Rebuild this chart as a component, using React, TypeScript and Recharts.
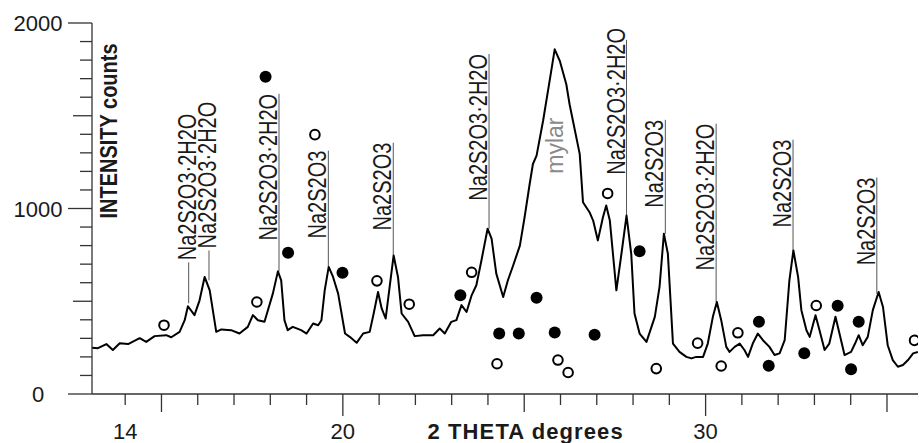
import React from "react";
import { ComposedChart, Line, Scatter, XAxis, YAxis, ReferenceLine, ReferenceDot } from "recharts";

// diffraction trace
const thetaPts = [
  13.08, 13.25, 13.48, 13.66, 13.85, 14.08, 14.4, 14.58, 14.81, 15.13, 15.27, 15.5, 15.64, 15.73, 15.91,
  16.05, 16.19, 16.33, 16.51, 16.65, 16.92, 17.15, 17.38, 17.52, 17.66, 17.84, 18.07, 18.21, 18.3, 18.39,
  18.48, 18.62, 18.85, 19.0, 19.18, 19.32, 19.41, 19.5, 19.61, 19.73, 19.87, 20.06, 20.19, 20.38, 20.56,
  20.74, 20.85, 20.97, 21.07, 21.18, 21.29, 21.4, 21.52, 21.62, 21.8, 21.98, 22.21, 22.49, 22.67, 22.81,
  22.99, 23.13, 23.27, 23.41, 23.55, 23.68, 23.82, 23.99, 24.1, 24.23, 24.42, 24.55, 24.69, 24.88, 25.01,
  25.15, 25.24, 25.34, 25.52, 25.7, 25.84, 25.98, 26.16, 26.25, 26.53, 26.62, 26.8, 26.9, 27.03, 27.17,
  27.26, 27.36, 27.54, 27.68, 27.82, 27.95, 28.04, 28.18, 28.37, 28.6, 28.73, 28.85, 28.96, 29.1, 29.28,
  29.47, 29.61, 29.74, 29.93, 30.06, 30.2, 30.31, 30.43, 30.57, 30.66, 30.8, 30.94, 31.07, 31.17, 31.3,
  31.44, 31.58, 31.76, 31.9, 32.04, 32.18, 32.31, 32.42, 32.55, 32.64, 32.78, 32.87, 33.03, 33.14, 33.28,
  33.41, 33.58, 33.69, 33.83, 34.01, 34.12, 34.22, 34.33, 34.47, 34.61, 34.77, 34.89, 35.02, 35.16, 35.3,
  35.44, 35.58, 35.72, 35.85,
];
const countPts = [
  250, 247, 269, 237, 274, 269, 301, 281, 312, 317, 306, 335, 398, 473, 425,
  505, 631, 559, 335, 348, 344, 326, 362, 425, 398, 389, 541, 661, 613, 398,
  344, 362, 344, 326, 380, 371, 398, 559, 685, 631, 541, 326, 308, 276, 326,
  335, 434, 550, 461, 407, 577, 747, 631, 434, 389, 312, 317, 317, 353, 326,
  389, 398, 479, 442, 532, 586, 720, 891, 837, 649, 523, 613, 690, 800, 953,
  1132, 1240, 1285, 1473, 1688, 1858, 1796, 1670, 1562, 1293, 1034, 980, 935, 828, 953,
  1016, 935, 559, 756, 962, 756, 434, 326, 281, 416, 577, 864, 756, 272, 227,
  200, 192, 200, 200, 272, 416, 496, 398, 254, 227, 254, 272, 237, 200, 272,
  326, 290, 254, 210, 219, 290, 613, 774, 631, 452, 344, 308, 425, 344, 237,
  272, 416, 326, 210, 227, 272, 317, 263, 308, 452, 550, 469, 263, 183, 147,
  156, 183, 219, 227,
];

// open circle markers
const openTheta = [15.07, 17.63, 19.23, 20.94, 21.83, 23.55, 24.25, 25.93, 26.21, 27.3, 28.64, 29.78, 30.43, 30.89, 33.05, 35.76];
const openCount = [371, 496, 1398, 610, 484, 656, 163, 183, 116, 1081, 137, 274, 151, 330, 477, 289];

// filled circle markers
const filledTheta = [17.87, 18.49, 19.99, 23.24, 24.31, 24.85, 25.34, 25.84, 26.94, 28.18, 31.47, 31.74, 32.72, 33.64, 34.22, 34.01];
const filledCount = [1710, 762, 654, 532, 326, 326, 519, 331, 320, 769, 389, 152, 220, 476, 389, 133];

// phase labels: line from peak (base) up to top, text beside it
const peakTheta = [15.75, 16.31, 18.24, 19.6, 21.39, 24.03, 27.82, 28.89, 30.29, 32.41, 34.72];
const peakBase = [489, 613, 661, 685, 747, 891, 962, 864, 496, 774, 540];
const peakTop = [710, 774, 1618, 1312, 1355, 1833, 1909, 1478, 1457, 1371, 1167];
const peakTextTop = [710, 774, 1618, 1312, 1355, 1833, 1973, 1478, 1457, 1371, 1167];
const peakName = [
  "Na2S2O3·2H2O", "Na2S2O3·2H2O", "Na2S2O3·2H2O", "Na2S2O3", "Na2S2O3", "Na2S2O3·2H2O",
  "Na2S2O3·2H2O", "Na2S2O3", "Na2S2O3·2H2O", "Na2S2O3", "Na2S2O3",
];
const mylarTheta = 25.92;
const mylarCount = 1339;

const xTicks = [14, 15, 16, 17, 18, 19, 20, 21, 22, 23, 24, 25, 26, 27, 28, 29, 30, 31, 32, 33, 34, 35];
const xLabels = [14, 20, 30];
const yTicks = [0, 100, 200, 300, 400, 500, 600, 700, 800, 900, 1000, 1100, 1200, 1300, 1400, 1500, 1600, 1700, 1800, 1900, 2000];
const yLabels = [0, 1000, 2000];

const curve = thetaPts.map((x, i) => ({ x, y: countPts[i] }));
const openPts = openTheta.map((x, i) => ({ x, y: openCount[i] }));
const filledPts = filledTheta.map((x, i) => ({ x, y: filledCount[i] }));
// the first two labels sit on top of their lines instead of beside them
const TEXT_ABOVE = [true, true, false, false, false, false, false, false, false, false, false];

const FONT = "'Liberation Sans', Arial, Helvetica, sans-serif";
const INK = "#1a1a1a";

// vertical text, widened a bit across its height like the scanned figure
function VText({ x, y, anchor, size, scale, children, ...rest }: any) {
  return (
    <text
      transform={`translate(${x} ${y}) scale(${scale} 1) rotate(-90)`}
      textAnchor={anchor}
      fontSize={size}
      fontFamily={FONT}
      {...rest}
    >
      {children}
    </text>
  );
}

function XTick(props: any) {
  const { x, y, payload } = props;
  const v = payload.value;
  const len = v === 20 || v === 30 ? 22 : v % 5 === 0 ? 18 : 11;
  return (
    <g>
      <line x1={x} x2={x} y1={y} y2={y + len} stroke="#333" strokeWidth={1.3} />
      {xLabels.includes(v) && (
        <text x={x} y={y + 45} textAnchor="middle" fontSize={22} fontFamily={FONT} fill={INK}>
          {v}
        </text>
      )}
    </g>
  );
}

function YTick(props: any) {
  const { x, y, payload } = props;
  const v = payload.value;
  const len = v % 1000 === 0 ? 24 : v % 500 === 0 ? 19 : 12;
  return (
    <g>
      <line x1={x - len} x2={x} y1={y} y2={y} stroke="#333" strokeWidth={1.3} />
      {yLabels.includes(v) && (
        <text x={x - 54} y={y + 8} textAnchor="middle" fontSize={22} fontFamily={FONT} fill={INK}>
          {v}
        </text>
      )}
    </g>
  );
}

function PeakText({ cx, cy, text, above }: { cx: number; cy: number; text: string; above: boolean }) {
  return (
    <VText
      x={above ? cx + 7 : cx - 2}
      y={above ? cy - 2 : cy}
      anchor={above ? "start" : "end"}
      size={20}
      scale={1.3}
      fill={INK}
    >
      {text}
    </VText>
  );
}

export default function App() {
  return (
    <div style={{ position: "absolute", left: 0, top: 0, width: 919, height: 443, background: "#fff" }}>
      <ComposedChart width={919} height={443} margin={{ top: 23, right: 1, left: 32, bottom: 19 }}>
        <XAxis
          type="number"
          dataKey="x"
          domain={[13.085, 35.855]}
          ticks={xTicks}
          interval={0}
          tickSize={0}
          tickMargin={0}
          tick={(p: any) => <XTick {...p} />}
          height={30}
          stroke="#333"
          strokeWidth={1.3}
          allowDataOverflow
          label={(p: any) => {
            const vb = p.viewBox;
            return (
              <text
                x={vb.x + vb.width * 0.525}
                y={439}
                textAnchor="middle"
                fontSize={22}
                fontWeight="bold"
                letterSpacing={1.1}
                fontFamily={FONT}
                fill={INK}
              >
                2 THETA degrees
              </text>
            );
          }}
        />
        <YAxis
          type="number"
          dataKey="y"
          domain={[0, 2000]}
          ticks={yTicks}
          interval={0}
          tickSize={0}
          tickMargin={0}
          tick={(p: any) => <YTick {...p} />}
          width={60}
          stroke="#333"
          strokeWidth={1.3}
          allowDataOverflow
          label={(p: any) => {
            const vb = p.viewBox;
            return (
              <VText
                x={vb.x + vb.width + 25}
                y={vb.y + 108}
                anchor="middle"
                size={20}
                scale={1.2}
                fontWeight="bold"
                fill={INK}
              >
                INTENSITY counts
              </VText>
            );
          }}
        />
        {peakTheta.map((t, i) => (
          <ReferenceLine
            key={"l" + i}
            segment={[
              { x: t, y: peakBase[i] },
              { x: t, y: peakTop[i] },
            ]}
            stroke="#555"
            strokeWidth={1}
          />
        ))}
        <Line
          data={curve}
          dataKey="y"
          type="linear"
          stroke="#000"
          strokeWidth={2}
          strokeLinejoin="round"
          dot={false}
          activeDot={false}
          isAnimationActive={false}
        />
        <Scatter
          data={openPts}
          dataKey="y"
          isAnimationActive={false}
          shape={(p: any) => <circle cx={p.cx} cy={p.cy} r={4.8} fill="#fff" stroke="#000" strokeWidth={2} />}
        />
        <Scatter
          data={filledPts}
          dataKey="y"
          isAnimationActive={false}
          shape={(p: any) => <circle cx={p.cx} cy={p.cy} r={6} fill="#000" />}
        />
        {peakTheta.map((t, i) => (
          <ReferenceDot
            key={"t" + i}
            x={t}
            y={peakTextTop[i]}
            r={0}
            ifOverflow="visible"
            shape={(p: any) => <PeakText cx={p.cx} cy={p.cy} text={peakName[i]} above={TEXT_ABOVE[i]} />}
          />
        ))}
        <ReferenceDot
          x={mylarTheta}
          y={mylarCount}
          r={0}
          ifOverflow="visible"
          shape={(p: any) => (
            <VText x={p.cx + 5} y={p.cy} anchor="middle" size={23} scale={1} fill="#8a8a8a">
              mylar
            </VText>
          )}
        />
      </ComposedChart>
    </div>
  );
}
